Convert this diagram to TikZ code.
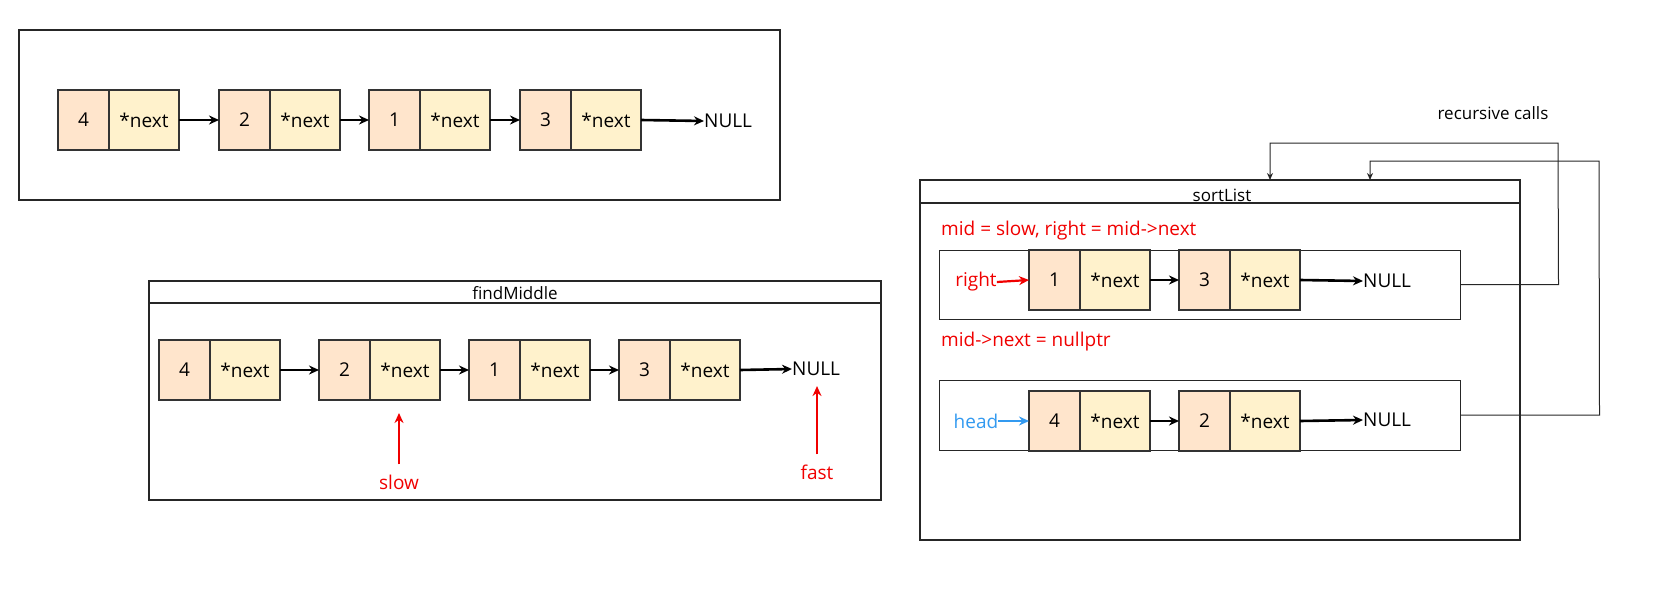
\documentclass[tikz,border=0pt]{standalone}
\usepackage{fontspec}
\setmainfont{Open Sans}
\usetikzlibrary{arrows.meta}
\definecolor{valfill}{RGB}{255,229,204}
\definecolor{nextfill}{RGB}{255,242,204}
\definecolor{celldraw}{RGB}{51,51,51}
\definecolor{myred}{RGB}{240,0,0}
\definecolor{myblue}{RGB}{51,154,240}
\tikzset{
  cell/.style={draw=celldraw, line width=2.3pt, outer sep=0pt, inner sep=0pt, minimum height=60pt,
    font=\fontsize{19}{22}\selectfont},
  valcell/.style={cell, fill=valfill, minimum width=51pt},
  nextcell/.style={cell, fill=nextfill, minimum width=70pt},
  nulltxt/.style={font=\fontsize{19}{22}\selectfont, inner sep=0pt, anchor=west},
  link/.style={line width=2.6pt, -{Stealth[length=10pt,width=9pt]}},
  redarr/.style={myred, line width=2.2pt, -{Stealth[length=10pt,width=9pt]}},
  bluearr/.style={myblue, line width=2.2pt, -{Stealth[length=10pt,width=9pt]}},
  frame/.style={draw=black!85, line width=1.1pt},
  conn/.style={draw=black!85, line width=1pt, -{Stealth[length=7pt,width=6pt]}},
  redtxt/.style={myred, font=\fontsize{19}{22}\selectfont, inner sep=0pt},
  titletxt/.style={font=\fontsize{17}{20}\selectfont, inner sep=0pt},
}
\newcommand\lnode[4]{%
  \node[valcell, anchor=west] (#1v) at (#2,#3) {#4};
  \node[nextcell, anchor=west] (#1n) at (#1v.east) {*next};
}
\begin{document}
\begin{tikzpicture}[x=1pt,y=-1pt]
\useasboundingbox (0,0) rectangle (1660,610);

% ---------- top list ----------
\node[frame, minimum width=761pt, minimum height=170pt, inner sep=0pt] (topbox) at (399.5,115) {};
\lnode{ta}{58}{120}{4}
\lnode{tb}{219}{120}{2}
\lnode{tc}{369}{120}{1}
\lnode{td}{520}{120}{3}
\node[nulltxt] (tnull) at (704,121) {NULL};
\draw[link] (tan.east) -- (tbv.west);
\draw[link] (tbn.east) -- (tcv.west);
\draw[link] (tcn.east) -- (tdv.west);
\draw[link] (tdn.east) -- (tnull.west);

% ---------- findMiddle ----------
\node[frame, minimum width=732pt, minimum height=219pt, inner sep=0pt] (fm) at (515,390.5) {};
\draw[frame] (149,303) -- (881,303);
\node[titletxt] (fmtitle) at (515,293) {findMiddle};
\lnode{fa}{159}{370}{4}
\lnode{fb}{319}{370}{2}
\lnode{fc}{469}{370}{1}
\lnode{fd}{619}{370}{3}
\node[nulltxt] (fnull) at (792,369) {NULL};
\draw[link] (fan.east) -- (fbv.west);
\draw[link] (fbn.east) -- (fcv.west);
\draw[link] (fcn.east) -- (fdv.west);
\draw[link] (fdn.east) -- (fnull.west);
\node[redtxt] (slow) at (399,482) {slow};
\coordinate (slowtip) at (399,413);
\draw[redarr, shorten <=10pt] (slow.north) -- (slowtip);
\node[redtxt] (fast) at (817,472) {fast};
\draw[redarr, shorten <=10pt, shorten >=10pt] (fast.north) -- (fnull.south -| fast.north);

% ---------- sortList ----------
\node[frame, minimum width=600pt, minimum height=360pt, inner sep=0pt] (sl) at (1220,360) {};
\draw[frame] (920,203) -- (1520,203);
\node[titletxt] (sltitle) at (1222,195) {sortList};
\node[redtxt, anchor=west] (midtxt) at (941,231) {mid = slow, right = mid->next};
\node[redtxt, anchor=west] (nulltxt2) at (941,342) {mid->next = nullptr};

\node[frame, line width=1pt, minimum width=521pt, minimum height=69pt, inner sep=0pt] (box1) at (1199.5,284.5) {};
\lnode{sa}{1029}{280}{1}
\lnode{sb}{1179}{280}{3}
\node[nulltxt] (s1null) at (1363,281) {NULL};
\draw[link] (san.east) -- (sbv.west);
\draw[link] (sbn.east) -- (s1null.west);
\node[redtxt] (right) at (976,282) {right};
\draw[redarr] (right.east) -- (sav.west);

\node[frame, line width=1pt, minimum width=521pt, minimum height=70pt, inner sep=0pt] (box2) at (1199.5,415) {};
\lnode{sc}{1029}{421}{4}
\lnode{sd}{1179}{421}{2}
\node[nulltxt] (s2null) at (1363,420) {NULL};
\draw[link] (scn.east) -- (sdv.west);
\draw[link] (sdn.east) -- (s2null.west);
\node[myblue, font=\fontsize{19}{22}\selectfont, inner sep=0pt] (head) at (976,421) {head};
\draw[bluearr] (head.east) -- (scv.west);

% ---------- recursive calls ----------
\node[titletxt] (rc) at (1493,113) {recursive calls};
\coordinate (in1) at (1270,180);
\coordinate (in2) at (1370,180);
\draw[conn] (box1.east) -- ++(98,0) -- (1558,143) -- (1270,143) -- (in1);
\draw[conn] (box2.east) -- ++(139,0) -- (1599,161) -- (1370,161) -- (in2);
\end{tikzpicture}
\end{document}
